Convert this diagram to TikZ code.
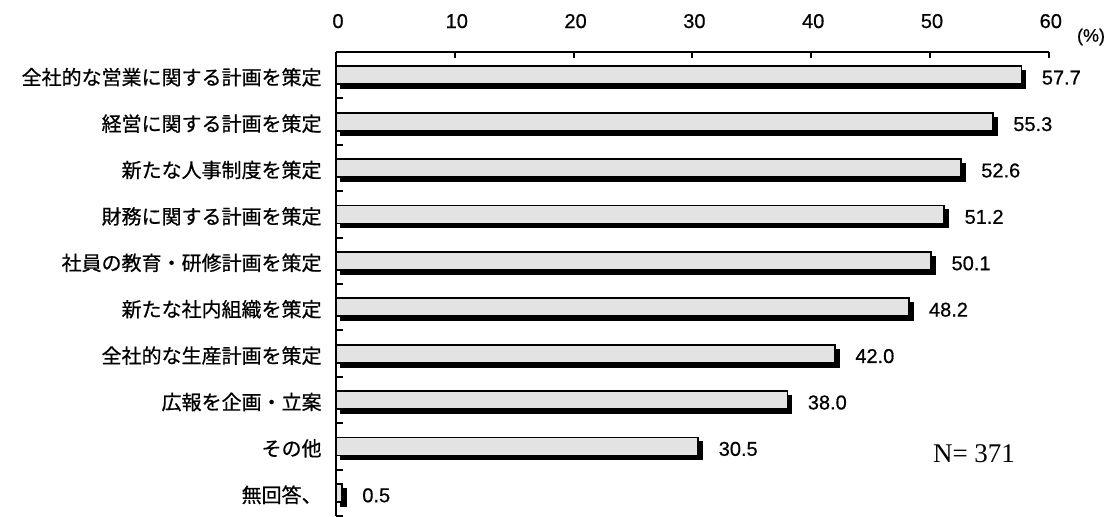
\documentclass[tikz,border=0pt]{standalone}
\usepackage{fontspec}
\setmainfont{Liberation Sans}[FakeBold=0.6]
\newfontfamily\jpfont{Noto Sans CJK JP}[FakeBold=0.6]
\newfontfamily\nfont{Liberation Serif}
\usetikzlibrary{positioning}
\tikzset{
  barre/.style={draw=black, line width=0.9pt, fill=black!11},
  ombre/.style={fill=black},
  categorie/.style={anchor=east, inner sep=0pt, font=\jpfont\fontsize{10}{12}\selectfont},
  valeur/.style={anchor=west, inner sep=0pt, font=\fontsize{10}{12}\selectfont},
  graduation/.style={anchor=base, inner sep=0pt, font=\fontsize{10}{12}\selectfont}
}

\begin{document}
\begin{tikzpicture}[x=0.5pt, y=-0.5pt]
    \useasboundingbox (0,0) rectangle (1108,516);

    % Axe horizontal
    \draw[line width=1pt] (336,52) -- (1049,52);
    \foreach \t in {0,...,6} {
        \pgfmathsetmacro{\tx}{336+118.8*\t}
        \draw[line width=1pt] (\tx,52) -- (\tx,58);
        \node[graduation] (grad\t) at (\tx+2,28) {\the\numexpr\t*10\relax};
    }
    \node[inner sep=0pt, font=\fontsize{9}{11}\selectfont] (unite) at (1091,37) {(\%)};

    % Barres
    \foreach \v/\lab [count=\i] in {57.7/全社的な営業に関する計画を策定, 55.3/経営に関する計画を策定,
        52.6/新たな人事制度を策定, 51.2/財務に関する計画を策定, 50.1/社員の教育・研修計画を策定,
        48.2/新たな社内組織を策定, 42.0/全社的な生産計画を策定, 38.0/広報を企画・立案,
        30.5/その他, 0.5/無回答、} {
        \pgfmathsetmacro{\yc}{52+46.4*(\i-0.5)}
        \pgfmathsetmacro{\xe}{336+11.88*\v}
        \fill[ombre] (340,\yc-5) rectangle (\xe+5,\yc+14);
        \draw[barre] (336,\yc-9) rectangle (\xe,\yc+9);
        \node[categorie] (cat\i) at (322,\yc+2) {\lab};
        \node[valeur] (val\i) at (\xe+20,\yc+2.5) {\v};
    }

    % Axe vertical
    \draw[line width=1.3pt] (336,52) -- (336,516);
    \foreach \k in {1,...,10} {
        \draw[line width=1pt] (336,52+46.4*\k) -- (343,52+46.4*\k);
    }

    % Effectif
    \node[inner sep=0pt, font=\nfont\fontsize{13.5}{16}\selectfont] (effectif) at (974,454) {N= 371};

\end{tikzpicture}
\end{document}
